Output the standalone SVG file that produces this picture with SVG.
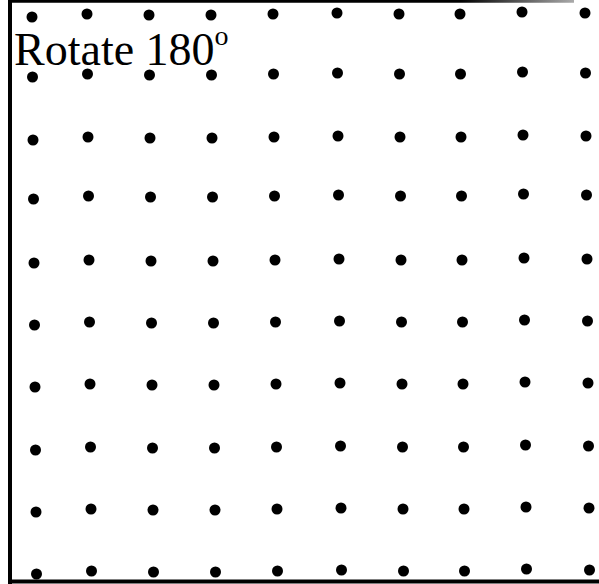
<svg xmlns="http://www.w3.org/2000/svg" xmlns:xlink="http://www.w3.org/1999/xlink" width="599" height="584" viewBox="0 0 599 584">
  <style>
    .d { fill: #000; }
    .frame { stroke: #000; stroke-width: 4; fill: none; }
    .label { font-family: "Liberation Serif", "Times New Roman", serif; font-size: 46px; fill: #000; }
  </style>
  <defs>
    <linearGradient id="topfade" x1="9" y1="0" x2="574" y2="0" gradientUnits="userSpaceOnUse">
      <stop offset="0" stop-color="#000"/>
      <stop offset="0.8" stop-color="#000"/>
      <stop offset="1" stop-color="#aaa"/>
    </linearGradient>
    <g id="row">
      <circle class="d" cx="32" cy="0" r="5.5"/>
      <circle class="d" cx="87" cy="-3" r="5.5"/>
      <circle class="d" cx="149" cy="-2" r="5.5"/>
      <circle class="d" cx="211" cy="-2" r="5.5"/>
      <circle class="d" cx="273" cy="-3" r="5.5"/>
      <circle class="d" cx="337" cy="-4" r="5.5"/>
      <circle class="d" cx="399" cy="-3" r="5.5"/>
      <circle class="d" cx="460" cy="-3" r="5.5"/>
      <circle class="d" cx="522" cy="-5" r="5.5"/>
      <circle class="d" cx="585" cy="-4" r="5.5"/>
    </g>
  </defs>
  <rect width="599" height="584" fill="#fff"/>
  <g id="frame">
    <line x1="10" y1="0" x2="10" y2="584" class="frame"/>
    <line x1="8" y1="581.5" x2="599" y2="581.5" class="frame"/>
    <line x1="8" y1="1.2" x2="574" y2="1.2" stroke="url(#topfade)" stroke-width="3"/>
  </g>
  <g id="dots">
    <use xlink:href="#row" x="0" y="17"/>
    <use xlink:href="#row" x="0.5" y="77"/>
    <use xlink:href="#row" x="1" y="140"/>
    <use xlink:href="#row" x="1.5" y="199"/>
    <use xlink:href="#row" x="2" y="263"/>
    <use xlink:href="#row" x="2.5" y="325"/>
    <use xlink:href="#row" x="3" y="387"/>
    <use xlink:href="#row" x="3.5" y="450"/>
    <use xlink:href="#row" x="4" y="512"/>
    <use xlink:href="#row" x="4.5" y="574"/>
  </g>
  <g id="title">
    <text class="label" x="14" y="65">Rotate 180<tspan font-size="28" dy="-20">o</tspan></text>
  </g>
</svg>
